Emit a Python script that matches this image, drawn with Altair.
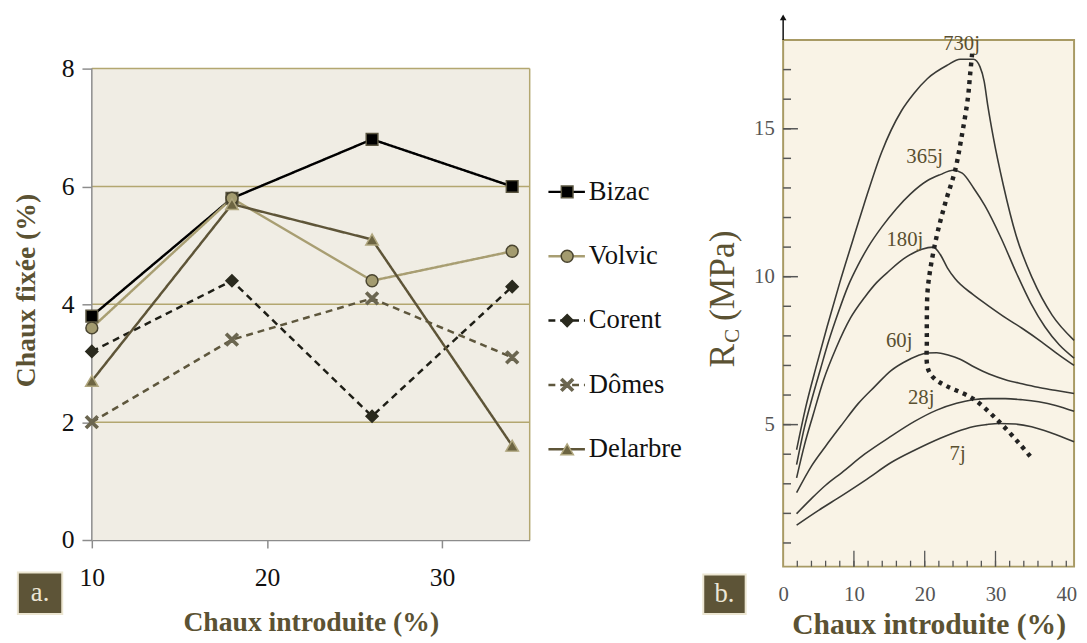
import altair as alt
import pandas as pd

FONT = "Liberation Serif"
OLIVE_DARK = "#5b5233"
OLIVE_GRID = "#b3a770"
AXIS_GREY = "#8c8c8c"

# ---------------- panel a data ----------------
chaux_introduite = [10, 18, 26, 34]
series_names = ["Bizac", "Volvic", "Corent", "Dômes", "Delarbre"]
bizac = [3.8, 5.8, 6.8, 6.0]
volvic = [3.6, 5.8, 4.4, 4.9]
corent = [3.2, 4.4, 2.1, 4.3]
domes = [2.0, 3.4, 4.1, 3.1]
delarbre = [2.7, 5.7, 5.1, 1.6]
a_yticks = [0, 2, 4, 6, 8]
a_xticks = [10, 20, 30]
a_grid = [2, 4, 6, 8]

# ---------------- panel b data ----------------
curve_names = ["730j", "365j", "180j", "60j", "28j", "7j"]
c730_x = [1.9, 3.2, 4.6, 6.2, 8.0, 9.8, 11.5, 13.9, 16.7, 18.5, 20.4, 23.2, 25.0, 26.9, 27.8, 28.4, 28.9, 29.7, 31.1, 32.9, 35.2, 38.0, 41.1]
c730_y = [4.15, 5.6, 6.9, 8.3, 9.8, 11.2, 12.5, 14.2, 15.6, 16.2, 16.7, 17.15, 17.35, 17.35, 17.1, 16.6, 15.8, 14.7, 13.1, 11.4, 9.95, 8.7, 7.85]
c365_x = [1.9, 3.0, 4.1, 5.3, 6.4, 7.8, 9.2, 10.6, 12.0, 14.0, 16.0, 18.0, 20.4, 22.2, 24.0, 25.3, 26.9, 28.5, 30.8, 33.0, 35.0, 37.0, 39.0, 41.1]
c365_y = [3.65, 4.9, 5.9, 6.9, 7.8, 8.8, 9.7, 10.4, 11.0, 11.7, 12.3, 12.8, 13.25, 13.45, 13.6, 13.5, 13.0, 12.4, 11.3, 10.1, 9.1, 8.3, 7.7, 7.25]
c180_x = [1.9, 3.0, 4.2, 5.7, 7.5, 9.5, 11.5, 13.2, 15.0, 17.0, 19.6, 21.2, 22.2, 23.2, 24.3, 26.8, 29.1, 31.5, 33.8, 36.5, 39.0, 41.1]
c180_y = [3.2, 4.3, 5.3, 6.5, 7.6, 8.6, 9.3, 9.8, 10.2, 10.6, 10.93, 11.0, 10.75, 10.3, 9.93, 9.4, 9.0, 8.6, 8.25, 7.8, 7.35, 7.0]
c60_x = [1.9, 4.0, 6.0, 8.3, 10.6, 13.0, 15.2, 17.0, 18.9, 20.3, 21.7, 23.3, 25.0, 27.0, 29.1, 31.4, 33.75, 36.0, 38.4, 41.1]
c60_y = [2.7, 3.6, 4.27, 5.0, 5.71, 6.3, 6.82, 7.1, 7.32, 7.42, 7.43, 7.35, 7.21, 6.95, 6.71, 6.52, 6.38, 6.26, 6.16, 6.05]
c28_x = [1.9, 4.0, 6.0, 8.3, 11.5, 15.2, 18.5, 21.7, 24.5, 26.8, 29.0, 31.4, 33.8, 36.1, 38.5, 41.1]
c28_y = [1.99, 2.5, 2.95, 3.38, 4.0, 4.6, 5.1, 5.49, 5.72, 5.84, 5.88, 5.88, 5.84, 5.77, 5.65, 5.45]
c7_x = [1.9, 5.0, 8.3, 11.8, 15.2, 18.7, 22.2, 24.5, 26.8, 28.7, 30.5, 32.8, 35.1, 37.9, 41.1]
c7_y = [1.6, 2.1, 2.6, 3.15, 3.71, 4.15, 4.54, 4.76, 4.93, 5.0, 5.04, 5.02, 4.93, 4.72, 4.42]
dot_x = [26.7, 26.4, 26.1, 25.2, 24.3, 22.9, 21.7, 20.8, 20.4, 20.3, 20.3, 20.3, 20.6, 21.4, 23.1, 26.8, 30.5, 33.3, 34.9]
dot_y = [17.54, 16.8, 16.04, 14.71, 13.6, 12.49, 11.38, 10.27, 9.5, 8.6, 7.8, 7.1, 6.8, 6.55, 6.3, 5.88, 5.1, 4.38, 3.93]
label_x = [25.2, 20.0, 17.2, 16.4, 19.5, 24.65]
label_y = [17.85, 14.03, 11.25, 7.83, 5.9, 4.0]
b_xlabels = [0, 10, 20, 30, 40]
b_ylabels = [5, 10, 15]
b_minor_y = list(range(1, 18))
b_minor_x = list(range(2, 41, 2))
b_major_x = [10, 20, 30]

# ---------------- tables ----------------
rows = []
for name, vals in zip(series_names, [bizac, volvic, corent, domes, delarbre]):
    for xv, yv in zip(chaux_introduite, vals):
        rows.append({"serie": name, "x": xv, "y": yv})
df_a = pd.DataFrame(rows)

crow = []
for name, xs, ys in zip(curve_names, [c730_x, c365_x, c180_x, c60_x, c28_x, c7_x],
                        [c730_y, c365_y, c180_y, c60_y, c28_y, c7_y]):
    for xv, yv in zip(xs, ys):
        crow.append({"curve": name, "x": xv, "y": yv})
df_curves = pd.DataFrame(crow)
df_dot = pd.DataFrame({"x": dot_x, "y": dot_y, "o": list(range(len(dot_x)))})
df_lab = pd.DataFrame({"x": label_x, "y": label_y, "t": curve_names})

# ---------------- styles ----------------
line_colors = ["#000000", "#a89e72", "#1e1e16", "#5e573d", "#5e5538"]
dashes = [[1, 0], [1, 0], [7, 5], [7, 5], [1, 0]]
xpath = "M-1,-0.75L-0.75,-1L0,-0.25L0.75,-1L1,-0.75L0.25,0L1,0.75L0.75,1L0,0.25L-0.75,1L-1,0.75L-0.25,0Z"
shapes = ["square", "circle", "diamond", xpath, "triangle-up"]
fills = ["#000000", "#a39b6f", "#2a2a1e", "#6b6650", "#6d6542"]
strokes = ["#5a5540", "#4a4530", "#2a2a1e", "#6b6650", "#b0a77f"]
sizes = [140, 160, 120, 150, 190]

color_sc = alt.Scale(domain=series_names, range=line_colors)
dash_sc = alt.Scale(domain=series_names, range=dashes)
shape_sc = alt.Scale(domain=series_names, range=shapes)
fill_sc = alt.Scale(domain=series_names, range=fills)
stroke_sc = alt.Scale(domain=series_names, range=strokes)
size_sc = alt.Scale(domain=series_names, range=sizes)

# ---------------- panel a ----------------
A_W, A_H = 444, 507
A_YTOP = 8 * A_H / 478.0


def ax(field="x"):
    return alt.X(f"{field}:Q", scale=alt.Scale(domain=[10, 35], nice=False, zero=False),
                 axis=alt.Axis(values=a_xticks, title="Chaux introduite (%)", grid=False,
                               domainColor=AXIS_GREY, domainWidth=1.5, tickColor=AXIS_GREY,
                               tickWidth=1.5, tickSize=8, labelFont=FONT, labelFontSize=26,
                               labelColor="#111", labelPadding=17, labelFlush=False,
                               titleFont=FONT, titleFontSize=28, titleFontWeight="bold",
                               titleColor=OLIVE_DARK, titlePadding=19))


def ay(field="y"):
    return alt.Y(f"{field}:Q", scale=alt.Scale(domain=[0, A_YTOP], nice=False),
                 axis=alt.Axis(values=a_yticks, title="Chaux fixée (%)", grid=False, domain=False,
                               tickColor=AXIS_GREY, tickWidth=1.5, tickSize=10, labelFont=FONT,
                               labelFontSize=26, labelColor="#111", labelPadding=8,
                               titleFont=FONT, titleFontSize=28, titleFontWeight="bold",
                               titleColor=OLIVE_DARK, titlePadding=21))


bg_a = alt.Chart(pd.DataFrame({"x": [10], "x2": [35], "y": [0], "y2": [8]})).mark_rect(
    fill="#f0ede4").encode(x=ax("x"), x2="x2:Q", y=ay("y"), y2="y2:Q")
grid_a = alt.Chart(pd.DataFrame({"y": a_grid, "x": [10] * 4, "x2": [35] * 4})).mark_rule(
    color=OLIVE_GRID, strokeWidth=1.5).encode(x=ax("x"), x2="x2:Q", y=ay("y"))
right_a = alt.Chart(pd.DataFrame({"x": [35], "y": [0], "y2": [8]})).mark_rule(
    color=OLIVE_GRID, strokeWidth=1.5).encode(x=ax("x"), y=ay("y"), y2="y2:Q")
left_a = alt.Chart(pd.DataFrame({"x": [10], "y": [0], "y2": [8]})).mark_rule(
    color=AXIS_GREY, strokeWidth=1.5).encode(x=ax("x"), y=ay("y"), y2="y2:Q")
lines_a = alt.Chart(df_a).mark_line(strokeWidth=2.5).encode(
    x=ax("x"), y=ay("y"),
    color=alt.Color("serie:N", scale=color_sc, legend=None),
    strokeDash=alt.StrokeDash("serie:N", scale=dash_sc, legend=None),
    detail="serie:N")
pts_a = alt.Chart(df_a).mark_point(filled=True, opacity=1, strokeWidth=1.5).encode(
    x=ax("x"), y=ay("y"),
    shape=alt.Shape("serie:N", scale=shape_sc, legend=None),
    fill=alt.Fill("serie:N", scale=fill_sc, legend=None),
    stroke=alt.Stroke("serie:N", scale=stroke_sc, legend=None),
    size=alt.Size("serie:N", scale=size_sc, legend=None))
box_df = pd.DataFrame({"t": ["a."]})
box_a = alt.Chart(box_df).mark_rect(fill="#5d5437", stroke="#ece6d2", strokeWidth=2).encode(
    x=alt.value(-75), x2=alt.value(-30), y=alt.value(540), y2=alt.value(582))
boxt_a = alt.Chart(box_df).mark_text(font=FONT, fontSize=27, color="#ece6d6").encode(
    x=alt.value(-52.5), y=alt.value(561), text="t:N")

panel_a = alt.layer(bg_a, grid_a, right_a, left_a, lines_a, pts_a, box_a, boxt_a).properties(
    width=A_W, height=A_H)

# ---------------- legend ----------------
leg_df = pd.DataFrame({"serie": series_names})
leg_y = alt.Y("serie:N", scale=alt.Scale(type="point", domain=series_names, range=[154, 415],
                                         padding=0), axis=None)
leg_line = alt.Chart(leg_df).mark_rule(strokeWidth=2.5).encode(
    x=alt.value(0), x2=alt.value(37), y=leg_y,
    color=alt.Color("serie:N", scale=color_sc, legend=None),
    strokeDash=alt.StrokeDash("serie:N", scale=alt.Scale(domain=series_names,
                              range=[[1, 0], [1, 0], [7, 5], [7, 5], [1, 0]]), legend=None))
leg_pt = alt.Chart(leg_df).mark_point(filled=True, opacity=1, strokeWidth=1.5).encode(
    x=alt.value(19), y=leg_y,
    shape=alt.Shape("serie:N", scale=shape_sc, legend=None),
    fill=alt.Fill("serie:N", scale=fill_sc, legend=None),
    stroke=alt.Stroke("serie:N", scale=stroke_sc, legend=None),
    size=alt.Size("serie:N", scale=size_sc, legend=None))
leg_txt = alt.Chart(leg_df).mark_text(font=FONT, fontSize=27, color="#111", align="left",
                                      baseline="middle").encode(
    x=alt.value(41), y=leg_y, text="serie:N")
legend = alt.layer(leg_line, leg_pt, leg_txt).properties(width=139, height=A_H)

# ---------------- panel b ----------------
B_W, B_H = 295, 534


def bx(field="x"):
    return alt.X(f"{field}:Q", scale=alt.Scale(domain=[0, 41.1], nice=False, zero=False),
                 axis=alt.Axis(values=b_xlabels, title="Chaux  introduite (%)", grid=False,
                               domain=False, ticks=False, labelFont=FONT, labelFontSize=21,
                               labelColor="#555", labelPadding=17, labelFlush=False,
                               titleFont=FONT, titleFontSize=30, titleFontWeight="bold",
                               titleColor=OLIVE_DARK, titlePadding=6))


def by(field="y"):
    return alt.Y(f"{field}:Q", scale=alt.Scale(domain=[0.2, 18], nice=False, zero=False),
                 axis=alt.Axis(values=b_ylabels, title=None, grid=False, domain=False,
                               ticks=False, labelFont=FONT, labelFontSize=21, labelColor="#555",
                               labelPadding=9))


curves_b = alt.Chart(df_curves).mark_line(color="#3a3a36", strokeWidth=1.6,
                                          interpolate="monotone").encode(
    x=bx("x"), y=by("y"), detail="curve:N")
dot_b = alt.Chart(df_dot).mark_line(color="#222", strokeWidth=4.5, strokeDash=[4, 5],
                                    interpolate="catmull-rom").encode(
    x=bx("x"), y=by("y"), order="o:Q")
lab_b = alt.Chart(df_lab).mark_text(font=FONT, fontSize=21, color="#5a5030").encode(
    x=bx("x"), y=by("y"), text="t:N")
ymin_b = alt.Chart(pd.DataFrame({"y": b_minor_y})).mark_rule(color="#555", strokeWidth=1.5).encode(
    y=by("y"), x=alt.value(0), x2=alt.value(8))
ymaj_b = alt.Chart(pd.DataFrame({"y": b_ylabels})).mark_rule(color="#555", strokeWidth=1.5).encode(
    y=by("y"), x=alt.value(0), x2=alt.value(15))
xmin_b = alt.Chart(pd.DataFrame({"x": b_minor_x})).mark_rule(color="#555", strokeWidth=1.3).encode(
    x=bx("x"), y=alt.value(B_H), y2=alt.value(B_H - 6))
xmaj_b = alt.Chart(pd.DataFrame({"x": b_major_x})).mark_rule(color="#555", strokeWidth=1.3).encode(
    x=bx("x"), y=alt.value(B_H), y2=alt.value(B_H - 16))
one = pd.DataFrame({"t": ["b."]})
arrow_b = alt.Chart(one).mark_rule(color="#111", strokeWidth=1.5).encode(
    x=alt.value(0), y=alt.value(-22), y2=alt.value(0))
arrowh_b = alt.Chart(one).mark_point(shape="triangle-up", filled=True, size=45, color="#111",
                                     opacity=1).encode(x=alt.value(0), y=alt.value(-23))
box_b = alt.Chart(one).mark_rect(fill="#5d5437", stroke="#ece6d2", strokeWidth=2).encode(
    x=alt.value(-81), x2=alt.value(-38), y=alt.value(542), y2=alt.value(582))
boxt_b = alt.Chart(one).mark_text(font=FONT, fontSize=27, color="#ece6d6").encode(
    x=alt.value(-59.5), y=alt.value(562), text="t:N")
tR = alt.Chart(pd.DataFrame({"t": ["R"]})).mark_text(font=FONT, fontSize=36, color=OLIVE_DARK,
                                                     angle=270).encode(
    x=alt.value(-61), y=alt.value(320), text="t:N")
tC = alt.Chart(pd.DataFrame({"t": ["C"]})).mark_text(font=FONT, fontSize=21, color=OLIVE_DARK,
                                                     angle=270).encode(
    x=alt.value(-51), y=alt.value(300), text="t:N")
tM = alt.Chart(pd.DataFrame({"t": ["(MPa)"]})).mark_text(font=FONT, fontSize=36, color=OLIVE_DARK,
                                                         angle=270).encode(
    x=alt.value(-61), y=alt.value(239), text="t:N")

panel_b = alt.layer(curves_b, dot_b, lab_b, ymin_b, ymaj_b, xmin_b, xmaj_b, arrow_b, arrowh_b,
                    box_b, boxt_b, tR, tC, tM).properties(
    width=B_W, height=B_H,
    view=alt.ViewBackground(fill="#f9f3e6", stroke="#a89a64", strokeWidth=2))

chart = alt.hconcat(panel_a, legend, panel_b, spacing=16).properties(
    padding={"left": 5, "top": 1, "right": 0, "bottom": 0}
).configure_view(stroke=None)

chart.save("out.html", embed_options={"renderer": "svg", "actions": False})
